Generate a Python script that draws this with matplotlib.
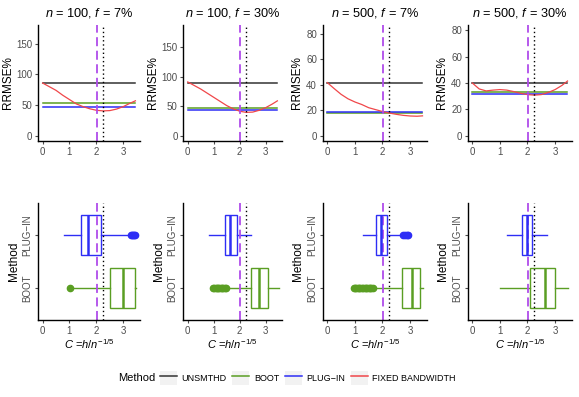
import matplotlib
matplotlib.use("Agg")
import matplotlib.pyplot as plt
from matplotlib.lines import Line2D
from matplotlib.patches import Rectangle
from matplotlib.legend_handler import HandlerTuple
import numpy as np

plt.rcParams["font.family"] = ["Liberation Sans", "DejaVu Sans"]
plt.rcParams["mathtext.fontset"] = "custom"
plt.rcParams["mathtext.rm"] = "Liberation Sans"
plt.rcParams["mathtext.it"] = "Liberation Sans:italic"

# panel titles
titles = [r"$n$ = 100, $f$ = 7%", r"$n$ = 100, $f$ = 30%",
          r"$n$ = 500, $f$ = 7%", r"$n$ = 500, $f$ = 30%"]

# horizontal reference levels (RRMSE%)
unsmthd = [86, 89.2, 41.4, 40]
boot_rr = [54, 46.5, 17.7, 33.3]
plugin_rr = [47, 44, 19, 31.3]

# fixed bandwidth curve
c_grid = [0, 0.25, 0.5, 0.75, 1.0, 1.25, 1.5, 1.75, 2.0, 2.25, 2.5, 2.75, 3.0, 3.25, 3.45]
fixed_bw = [
    [86, 80, 74, 66, 59, 52, 47.5, 44, 41.5, 40.5, 41, 43.5, 47.5, 53, 57],
    [91, 85, 79, 72, 65, 58, 51, 45.5, 41.5, 39.5, 40, 43, 47.5, 53.5, 59],
    [41.7, 37, 32.5, 29, 26.5, 24.5, 22, 20.5, 19, 17.8, 16.8, 16, 15.5, 15.3, 15.6],
    [40, 35.5, 34, 34.6, 35, 34.6, 33.5, 32.2, 31.2, 30.8, 31.2, 32.8, 35, 38.2, 41.5],
]

c_selected = 2.02   # purple dashed
c_optimal = 2.25    # black dotted

# boxplot summaries: (q1, median, q3, whisker low, whisker high, outliers)
boot_box = [
    (2.49, 3.00, 3.43, 1.10, 3.47, [1.02]),
    (2.43, 2.75, 3.08, 1.50, 3.52, [0.97, 1.02, 1.07, 1.12, 1.17, 1.22, 1.27, 1.32, 1.37, 1.42, 1.46]),
    (2.69, 3.06, 3.36, 1.72, 3.48, [0.95, 1.0, 1.05, 1.1, 1.15, 1.2, 1.25, 1.3, 1.35, 1.4, 1.45, 1.5, 1.55, 1.6, 1.66]),
    (2.09, 2.63, 3.00, 1.00, 3.48, []),
]
plugin_box = [
    (1.42, 1.70, 2.18, 0.79, 3.22, [3.28, 3.32, 3.36, 3.40, 3.44]),
    (1.43, 1.63, 1.88, 0.82, 2.43, []),
    (1.75, 1.93, 2.17, 1.30, 2.66, [2.76, 2.82, 2.88, 2.94]),
    (1.79, 1.97, 2.17, 1.25, 2.70, []),
]
methods = ["BOOT", "PLUG\u2212IN"]

col_black = "#333333"
col_boot = "#5A9E23"
col_plug = "#2E2EF5"
col_red = "#F0474A"
col_purple = "#B04CEB"
tick_col = "#4D4D4D"

W, H = 579, 397
fig = plt.figure(figsize=(W / 100, H / 100), dpi=100)

lefts = [38, 183.3, 322.6, 467.6]
rights = [140, 281.8, 427.2, 572.2]


def style(ax):
    for s in ["top", "right"]:
        ax.spines[s].set_visible(False)
    for s in ["left", "bottom"]:
        ax.spines[s].set_linewidth(1.0)
        ax.spines[s].set_color("black")
    ax.tick_params(colors=tick_col, labelsize=7, length=2.5, width=0.8, pad=1.5)
    ax.set_xlim(-0.17, 3.62)
    ax.set_xticks([0, 1, 2, 3])


for i in range(4):
    l, r = lefts[i] / W, rights[i] / W
    # top row
    ax = fig.add_axes([l, 1 - 141 / H, r - l, 116 / H])
    style(ax)
    top = 2 * unsmthd[i]
    ax.set_ylim(-0.05 * top, 1.05 * top)
    ax.axhline(unsmthd[i], xmin=0.045, xmax=0.955, color=col_black, lw=1.1)
    ax.axhline(boot_rr[i], xmin=0.045, xmax=0.955, color=col_boot, lw=1.1)
    ax.axhline(plugin_rr[i], xmin=0.045, xmax=0.955, color=col_plug, lw=1.1)
    ax.plot(c_grid, fixed_bw[i], color=col_red, lw=0.9)
    ax.axvline(c_selected, color=col_purple, lw=1.3, dashes=(5, 2.5))
    ax.axvline(c_optimal, color="black", lw=1.0, dashes=(1, 2))
    if i < 2:
        ax.set_yticks([0, 50, 100, 150])
    else:
        ax.set_yticks([0, 20, 40, 60, 80])
    ax.set_ylabel("RRMSE%", fontsize=8.5, labelpad=2)
    ax.set_title(titles[i], fontsize=9.2, pad=6)

    # bottom row
    ax = fig.add_axes([l, 1 - 320 / H, r - l, 116.7 / H])
    style(ax)
    ax.set_ylim(0.4, 2.6)
    for pos, box, col in [(1, boot_box[i], col_boot), (2, plugin_box[i], col_plug)]:
        q1, med, q3, wlo, whi, fl = box
        st = dict(q1=q1, med=med, q3=q3, whislo=wlo, whishi=whi, fliers=np.array(fl))
        ax.bxp([st], positions=[pos], widths=0.75, vert=False, showcaps=False,
               patch_artist=True,
               boxprops=dict(facecolor="white", edgecolor=col, lw=1.0),
               whiskerprops=dict(color=col, lw=1.0),
               medianprops=dict(color=col, lw=1.8),
               flierprops=dict(marker="o", markersize=4.5, markerfacecolor=col,
                               markeredgecolor=col))
    ax.axvline(c_selected, color=col_purple, lw=1.3, dashes=(5, 2.5))
    ax.axvline(c_optimal, color="black", lw=1.0, dashes=(1, 2))
    ax.set_yticks([1, 2])
    ax.set_yticklabels(methods, rotation=90, va="center")
    ax.set_xticks([0, 1, 2, 3])
    ax.set_ylabel("Method", fontsize=8.5, labelpad=2)
    ax.set_xlabel(r"$C$ =$h/n^{-1/5}$", fontsize=8, labelpad=1)

# legend
names = ["UNSMTHD", "BOOT", "PLUG\u2212IN", "FIXED BANDWIDTH"]
cols = [col_black, col_boot, col_plug, col_red]
handles = [(Rectangle((0, 0), 1, 1, facecolor="#F2F2F2", edgecolor="none"),
            Line2D([], [], color=c, lw=1.1)) for c in cols]
fig.text(155 / W, 1 - 378 / H, "Method", fontsize=8, ha="right", va="center")
fig.legend(handles, names, loc="center left", bbox_to_anchor=(160 / W, 1 - 378 / H),
           ncol=4, frameon=False, fontsize=6.5, handlelength=1.9, handleheight=1.9,
           handletextpad=0.5, columnspacing=0.6, borderpad=0, borderaxespad=0,
           handler_map={tuple: HandlerTuple(ndivide=1, pad=0)})

fig.savefig("out.png", dpi=100)
